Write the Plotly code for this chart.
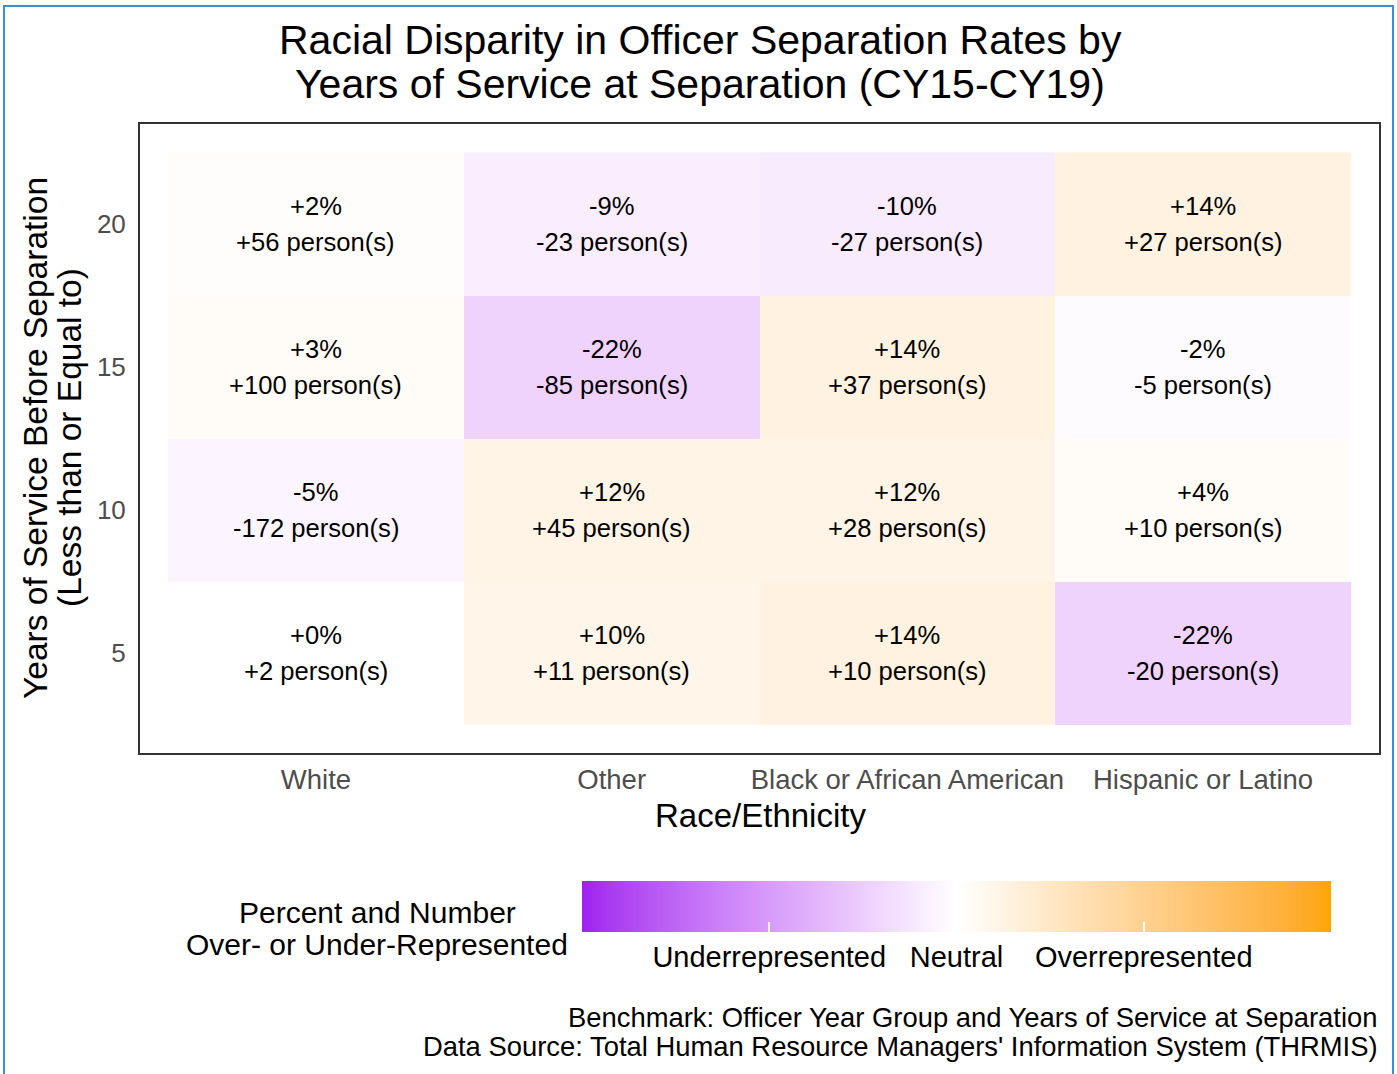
import plotly.graph_objects as go

# ---------------- data ----------------
categories = ["White", "Other", "Black or African American", "Hispanic or Latino"]
years = [5, 10, 15, 20]
# rows follow `years`, columns follow `categories`
pct = [
    [0, 10, 14, -22],
    [-5, 12, 12, 4],
    [3, -22, 14, -2],
    [2, -9, -10, 14],
]
persons = [
    [2, 11, 10, -20],
    [-172, 45, 28, 10],
    [100, -85, 37, -5],
    [56, -23, -27, 27],
]
scale_limits = [-100, 100]
scale_ticks = [-50, 0, 50]
scale_labels = ["Underrepresented", "Neutral", "Overrepresented"]

title_lines = ["Racial Disparity in Officer Separation Rates by",
               "Years of Service at Separation (CY15-CY19)"]
legend_title_lines = ["Percent and Number", "Over- or Under-Represented"]
caption_lines = ["Benchmark: Officer Year Group and Years of Service at Separation",
                 "Data Source: Total Human Resource Managers' Information System (THRMIS)"]

# ---------------- colour scale (Lab interpolation like ggplot) ----------------
def srgb_to_lin(c):
    c = c / 255.0
    return c / 12.92 if c <= 0.04045 else ((c + 0.055) / 1.055) ** 2.4

def lin_to_srgb(c):
    c = max(0.0, min(1.0, c))
    v = 12.92 * c if c <= 0.0031308 else 1.055 * c ** (1 / 2.4) - 0.055
    return int(round(v * 255))

def hex_to_lab(h):
    r, g, b = [srgb_to_lin(int(h[i:i + 2], 16)) for i in (1, 3, 5)]
    X = 0.4124 * r + 0.3576 * g + 0.1805 * b
    Y = 0.2126 * r + 0.7152 * g + 0.0722 * b
    Z = 0.0193 * r + 0.1192 * g + 0.9505 * b
    Xn, Yn, Zn = 0.95047, 1.0, 1.08883
    def f(t):
        return t ** (1 / 3) if t > 0.008856 else 7.787 * t + 16 / 116
    fx, fy, fz = f(X / Xn), f(Y / Yn), f(Z / Zn)
    return (116 * fy - 16, 500 * (fx - fy), 200 * (fy - fz))

def lab_to_rgb(L, a, b):
    fy = (L + 16) / 116
    fx = fy + a / 500
    fz = fy - b / 200
    def finv(t):
        return t ** 3 if t ** 3 > 0.008856 else (t - 16 / 116) / 7.787
    X, Y, Z = 0.95047 * finv(fx), 1.0 * finv(fy), 1.08883 * finv(fz)
    r = 3.2406 * X - 1.5372 * Y - 0.4986 * Z
    g = -0.9689 * X + 1.8758 * Y + 0.0415 * Z
    bb = 0.0557 * X - 0.2040 * Y + 1.0570 * Z
    return "rgb(%d,%d,%d)" % (lin_to_srgb(r), lin_to_srgb(g), lin_to_srgb(bb))

low, mid, high = hex_to_lab("#A020F0"), hex_to_lab("#FFFFFF"), hex_to_lab("#FFA500")
colorscale = []
N = 40
for i in range(N + 1):
    t = i / N
    if t <= 0.5:
        s = t / 0.5
        c = [low[k] + (mid[k] - low[k]) * s for k in range(3)]
    else:
        s = (t - 0.5) / 0.5
        c = [mid[k] + (high[k] - mid[k]) * s for k in range(3)]
    colorscale.append([t, lab_to_rgb(*c)])

# ---------------- layout geometry ----------------
W, H = 1397, 1074
PL, PR, PT, PB = 140, 1379, 124, 753          # panel edges in pixels
ML, MT = PL, PT
PW, PH = PR - PL, PB - PT
MR = W - ML - PW
MB = H - MT - PH

def px(x):
    return (x - PL) / PW

def py(y):
    return (PB - y) / PH

FONT = "Liberation Sans, Arial, sans-serif"

CB_X0, CB_LEN, CB_TOP, CB_THICK = 582, 749, 881, 51
TICKCOL = "rgba(255,255,255,0.9)"

def colorbar(top_side):
    cb = dict(
        orientation="h",
        xref="paper", yref="paper",
        x=px(CB_X0), xanchor="left",
        y=py(CB_TOP), yanchor="top",
        lenmode="pixels", len=CB_LEN, thickness=CB_THICK,
        xpad=0, ypad=0, outlinewidth=0,
        tickmode="array", tickvals=scale_ticks, ticktext=scale_labels,
        ticks="inside", ticklen=10, tickcolor=TICKCOL, tickwidth=1.5,
        tickfont=dict(family=FONT, size=29, color="black"),
    )
    if top_side:
        cb.update(ticklabelposition="outside top", showticklabels=False)
    return cb

fig = go.Figure()
# second copy only carries the top-edge tick marks of the colour bar
for top_side in (True, False):
    fig.add_trace(go.Heatmap(
        x=categories, y=years, z=pct,
        zmin=scale_limits[0], zmax=scale_limits[1], colorscale=colorscale,
        xgap=0, ygap=0, hoverinfo="skip",
        colorbar=colorbar(top_side),
    ))

annotations = []
for i, yr in enumerate(years):
    for j, cat in enumerate(categories):
        annotations.append(dict(x=cat, y=yr, xref="x", yref="y", text=f"{pct[i][j]:+d}%",
                                showarrow=False, yshift=18,
                                font=dict(family=FONT, size=25.6, color="black")))
        annotations.append(dict(x=cat, y=yr, xref="x", yref="y", text=f"{persons[i][j]:+d} person(s)",
                                showarrow=False, yshift=-18,
                                font=dict(family=FONT, size=25.6, color="black")))

# title lines
for ty, txt in zip([40, 84], title_lines):
    annotations.append(dict(x=px(700), y=py(ty), xref="paper", yref="paper", text=txt,
                            showarrow=False, xanchor="center", yanchor="middle",
                            font=dict(family=FONT, size=41, color="black")))
# axis titles
annotations.append(dict(x=px(760), y=py(815), xref="paper", yref="paper", text="Race/Ethnicity",
                        showarrow=False, xanchor="center", yanchor="middle",
                        font=dict(family=FONT, size=33, color="black")))
annotations.append(dict(x=px(35), y=py(438), xref="paper", yref="paper",
                        text="Years of Service Before Separation", textangle=-90,
                        showarrow=False, xanchor="center", yanchor="middle",
                        font=dict(family=FONT, size=33.5, color="black")))
annotations.append(dict(x=px(69), y=py(438), xref="paper", yref="paper",
                        text="(Less than or Equal to)", textangle=-90,
                        showarrow=False, xanchor="center", yanchor="middle",
                        font=dict(family=FONT, size=33.5, color="black")))
# legend title
for ty, txt in zip([912, 944], legend_title_lines):
    annotations.append(dict(x=px(377), y=py(ty), xref="paper", yref="paper", text=txt,
                            showarrow=False, xanchor="center", yanchor="middle",
                            font=dict(family=FONT, size=30, color="black")))
# caption
for ty, txt in zip([1017, 1046], caption_lines):
    annotations.append(dict(x=px(1380), y=py(ty), xref="paper", yref="paper", text=txt,
                            showarrow=False, xanchor="right", yanchor="middle",
                            font=dict(family=FONT, size=27.4, color="black")))

shapes = [dict(type="rect", xref="paper", yref="paper",
               x0=px(4), x1=px(1393), y0=py(1090), y1=py(6),
               line=dict(color="#3A8EDB", width=2), fillcolor="rgba(0,0,0,0)", layer="below")]

fig.update_layout(
    width=W, height=H, autosize=False,
    margin=dict(l=ML, r=MR, t=MT, b=MB, pad=0),
    paper_bgcolor="white", plot_bgcolor="white",
    font=dict(family=FONT),
    annotations=annotations, shapes=shapes,
    xaxis=dict(type="category", range=[-0.595, 3.595], showgrid=False, zeroline=False,
               showline=True, mirror=True, linecolor="#333333", linewidth=2,
               ticks="outside", ticklen=1, tickcolor="rgba(0,0,0,0)",
               tickfont=dict(family=FONT, size=27.5, color="#4D4D4D")),
    yaxis=dict(range=[1.5, 23.5], tickvals=years, showgrid=False, zeroline=False,
               showline=True, mirror=True, linecolor="#333333", linewidth=2,
               ticks="outside", ticklen=7, tickcolor="rgba(0,0,0,0)",
               tickfont=dict(family=FONT, size=26, color="#4D4D4D")),
)

fig.write_html("out.html", config={"displayModeBar": False},
               post_script="document.body.style.margin='0';")
